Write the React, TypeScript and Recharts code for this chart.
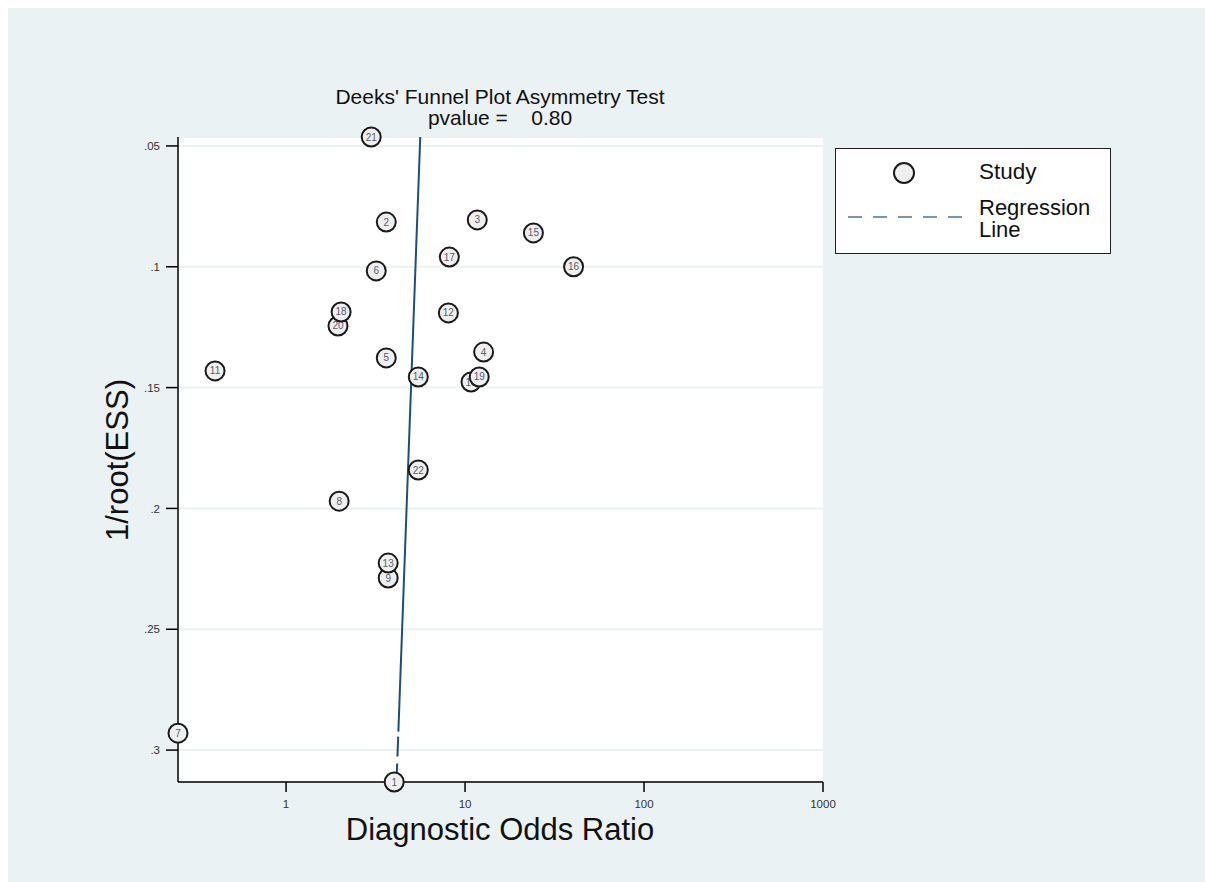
import React from "react";
import { ScatterChart, Scatter, XAxis, YAxis, CartesianGrid } from "recharts";

// Studies, listed in drawing order (later ones sit on top)
const studyIds = [1, 2, 3, 4, 5, 6, 7, 8, 9, 10, 11, 12, 13, 14, 15, 16, 17, 20, 18, 19, 21, 22];
const oddsRatios = [4.02, 3.63, 11.7, 12.7, 3.63, 3.19, 0.249, 1.98, 3.72, 10.8, 0.401, 8.07, 3.72, 5.48, 24.1, 40.4, 8.17, 1.95, 2.03, 12.0, 2.99, 5.48];
const invRootEss = [0.3132, 0.0815, 0.0806, 0.1353, 0.1377, 0.1017, 0.293, 0.197, 0.2288, 0.1477, 0.1431, 0.1191, 0.2226, 0.1456, 0.086, 0.1, 0.096, 0.1245, 0.1187, 0.1456, 0.0463, 0.1841];

// Regression line end points
const regOdds = [5.62, 4.14];
const regInv = [0.0463, 0.3132];

const xTicks = [1, 10, 100, 1000];
const yTicks = [0.05, 0.1, 0.15, 0.2, 0.25, 0.3];

const studies = studyIds.map((id, i) => ({ id, x: oddsRatios[i], y: invRootEss[i] }));
const regression = regOdds.map((x, i) => ({ x, y: regInv[i] }));

const BG = "#eaf2f3";
const FONT = "Arial, 'Liberation Sans', sans-serif";

const StudyMarker = (props: any) => {
  const { cx, cy, payload } = props;
  return (
    <g>
      <circle cx={cx} cy={cy} r={9.5} fill="#efefef" stroke="#1a1a1a" strokeWidth={2} />
      <text
        x={cx}
        y={cy + 3.5}
        textAnchor="middle"
        fontSize={10}
        fontFamily={FONT}
        fill="#5a5a6e"
      >
        {payload.id}
      </text>
    </g>
  );
};

export default function App() {
  return (
    <div
      style={{
        position: "absolute",
        left: 8,
        top: 8,
        width: 1197,
        height: 874,
        background: BG,
        fontFamily: FONT,
      }}
    >
      <ScatterChart
        width={1197}
        height={874}
        margin={{ top: 129, right: 382, left: 110, bottom: 70 }}
      >
        <CartesianGrid vertical={false} fill="#fff" stroke={BG} strokeWidth={2} />
        <XAxis
          type="number"
          dataKey="x"
          scale="log"
          domain={[0.249, 1000]}
          ticks={xTicks}
          height={30}
          axisLine={{ stroke: "#000", strokeWidth: 1.5 }}
          tickLine={{ stroke: "#000", strokeWidth: 1.5 }}
          tickSize={10}
          tickMargin={8}
          tick={{ fontSize: 11.5, fill: "#333", fontFamily: FONT }}
        />
        <YAxis
          type="number"
          dataKey="y"
          reversed
          domain={[0.0463, 0.3132]}
          ticks={yTicks}
          width={60}
          axisLine={{ stroke: "#000", strokeWidth: 1.5 }}
          tickLine={{ stroke: "#000", strokeWidth: 1.5 }}
          tickSize={12}
          tickMargin={6}
          tick={{ fontSize: 11.5, fill: "#333", fontFamily: FONT }}
          tickFormatter={(v: number) => String(v).replace(/^0/, "")}
        />
        <Scatter
          data={regression}
          isAnimationActive={false}
          line={{ stroke: "#1f4e79", strokeWidth: 2, strokeDasharray: "595 5 20 7 20 7" }}
          shape={() => <g />}
          legendType="none"
        />
        <Scatter
          data={studies}
          isAnimationActive={false}
          shape={StudyMarker}
        />
      </ScatterChart>

      {/* title */}
      <div
        style={{
          position: "absolute",
          left: 242,
          top: 78,
          width: 500,
          textAlign: "center",
          fontSize: 21,
          lineHeight: "21px",
          color: "#111",
        }}
      >
        Deeks' Funnel Plot Asymmetry Test
        <br />
        pvalue =&nbsp;&nbsp;&nbsp; 0.80
      </div>

      {/* x axis label */}
      <div
        style={{
          position: "absolute",
          left: 242,
          top: 804,
          width: 500,
          textAlign: "center",
          fontSize: 31,
          color: "#111",
        }}
      >
        Diagnostic Odds Ratio
      </div>

      {/* y axis label */}
      <div
        style={{
          position: "absolute",
          left: 10,
          top: 434,
          width: 200,
          textAlign: "center",
          fontSize: 31,
          lineHeight: "36px",
          color: "#111",
          transform: "rotate(-90deg)",
        }}
      >
        1/root(ESS)
      </div>

      {/* legend */}
      <div
        style={{
          position: "absolute",
          left: 827,
          top: 140,
          width: 276,
          height: 106,
          background: "#fff",
          border: "1.5px solid #222",
          boxSizing: "border-box",
        }}
      >
        <svg width={140} height={104} style={{ position: "absolute", left: 0, top: 0 }}>
          <circle cx={68} cy={24} r={10} fill="#efefef" stroke="#1a1a1a" strokeWidth={2} />
          <line x1={12} y1={68} x2={126} y2={68} stroke="#4a73a0" strokeWidth={1.5} strokeDasharray="14 11" />
        </svg>
        <div style={{ position: "absolute", left: 143, top: 10, fontSize: 22.5, lineHeight: "26px", color: "#111" }}>Study</div>
        <div style={{ position: "absolute", left: 143, top: 48, fontSize: 22, lineHeight: "22px", color: "#111" }}>
          Regression
          <br />
          Line
        </div>
      </div>
    </div>
  );
}
